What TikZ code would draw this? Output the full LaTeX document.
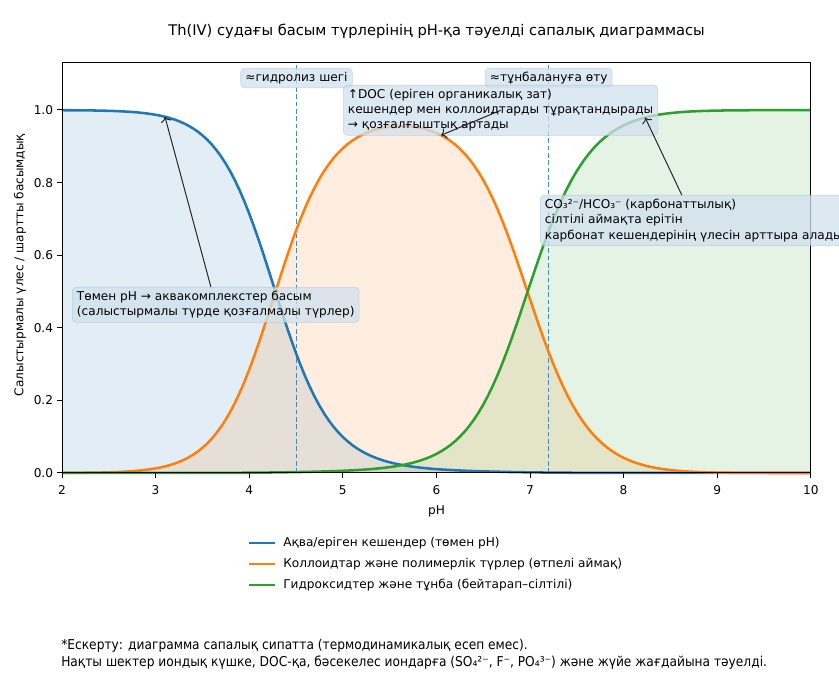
\documentclass[tikz,border=0pt]{standalone}
\usepackage{fontspec}
\setmainfont{DejaVu Sans}
\newfontfamily\notefont{DejaVu Sans Condensed}
\usetikzlibrary{arrows.meta}

\definecolor{aqblue}{HTML}{1F77B4}
\definecolor{colorange}{HTML}{FF7F0E}
\definecolor{hydgreen}{HTML}{2CA02C}
\definecolor{tagfill}{HTML}{D0E1EE}
\definecolor{tagedge}{HTML}{A9BFD0}

\newcommand{\labfont}{\fontsize{9.1}{11.4}\selectfont}

\tikzset{
	declare function={
		cexp(\u)=exp(min(8,max(-8,\u)));
		aqraw(\p)=1/(1+cexp(2.1*(\p-3.85)));
		colraw(\p)=exp(0-(\p-5.7)*(\p-5.7)/1.62);
		prraw(\p)=1/(1+cexp(-2.4*(\p-7.2)));
		total(\p)=aqraw(\p)+colraw(\p)+prraw(\p);
		fblue(\p)=aqraw(\p)/total(\p);
		forange(\p)=colraw(\p)/total(\p);
		fgreen(\p)=prraw(\p)/total(\p);
	},
	curve/.style={line width=1.9pt,line join=round},
	shade/.style={fill opacity=.13},
	guide/.style={aqblue!85,line width=.75pt,dash pattern=on 3.5pt off 2pt},
	tag/.style={rounded corners=3pt,fill=tagfill,fill opacity=.75,text opacity=1,
		draw=tagedge,draw opacity=.6,inner xsep=3.5pt,inner ysep=3pt,font=\labfont,align=left},
	pointer/.style={-{>[scale=1.2]},line width=.75pt,black!85},
	ticklab/.style={font=\labfont,inner sep=0pt},
}

\begin{document}
\begin{tikzpicture}[x=0.75pt,y=0.75pt]
	\useasboundingbox (0,0) rectangle (839,675);
	\clip (0,0) rectangle (839,675);

	\begin{scope}[shift={(-125.2,202)},x=70.2pt,y=272.25pt]
		\fill[aqblue,shade] plot[domain=2:10,samples=161] (\x,{fblue(\x)}) -- (10,0) -- (2,0) -- cycle;
		\fill[colorange,shade] plot[domain=2:10,samples=161] (\x,{forange(\x)}) -- (10,0) -- (2,0) -- cycle;
		\fill[hydgreen,shade] plot[domain=2:10,samples=161] (\x,{fgreen(\x)}) -- (10,0) -- (2,0) -- cycle;
		\draw[guide] (4.5,0) -- (4.5,1.1322);
		\draw[guide] (7.2,0) -- (7.2,1.1322);
		\draw[curve,aqblue] plot[domain=2:10,samples=161] (\x,{fblue(\x)});
		\draw[curve,colorange] plot[domain=2:10,samples=161] (\x,{forange(\x)});
		\draw[curve,hydgreen] plot[domain=2:10,samples=161] (\x,{fgreen(\x)});
		\draw[line width=.75pt] (2,0) rectangle (10,1.1322);
		\foreach \t in {2,...,10} {
			\draw[line width=.75pt] (\t,0) -- ++(0,-3.4pt);
			\node[ticklab,anchor=base,yshift=-16.5pt] (xt\t) at (\t,0) {\t};
		}
		\foreach \v [count=\i] in {0.0,0.2,0.4,0.6,0.8,1.0} {
			\draw[line width=.75pt] (2,\v) -- ++(-3.4pt,0);
			\node[ticklab,anchor=east,xshift=-6.5pt] (yt\i) at (2,\v) {\v};
		}
		\coordinate (aqpt) at (3.1,{fblue(3.1)});
		\coordinate (colpt) at (6.05,{forange(6.05)});
		\coordinate (hydpt) at (8.23,{fgreen(8.23)});
	\end{scope}

	% labels round the axes
	\node[font=\fontsize{11}{13.5}\selectfont] (title) at (436.5,644) {Th(IV) судағы басым түрлерінің pH-қа тәуелді сапалық диаграммасы};
	\node[ticklab] (xlab) at (436.5,164) {pH};
	\node[ticklab,rotate=90] (ylab) at (20,410) {Салыстырмалы үлес / шартты басымдық};

	% notes on the plot
	\node[tag] (hydro) at (296.5,597) {≈гидролиз шегі};
	\node[tag] (precip) at (548.7,597) {≈тұнбалануға өту};
	\node[tag,anchor=north west] (doc) at (343,590) {↑DOC (еріген органикалық зат)\\кешендер мен коллоидтарды тұрақтандырады\\→ қозғалғыштық артады};
	\node[tag,anchor=north west] (carb) at (540,480) {CO₃²⁻/HCO₃⁻ (карбонаттылық)\\сілтілі аймақта ерітін\\карбонат кешендерінің үлесін арттыра алады};
	\node[tag,anchor=north west] (low) at (72,388) {Төмен pH → аквакомплекстер басым\\(салыстырмалы түрде қозғалмалы түрлер)};
	\draw[pointer] (low) -- (aqpt);
	\draw[pointer] (doc.center) -- (colpt);
	\draw[pointer] (carb) -- (hydpt);

	% legend
	\draw[curve,aqblue] (249,132) -- (275,132);
	\draw[curve,colorange] (249,111) -- (275,111);
	\draw[curve,hydgreen] (249,90) -- (275,90);
	\node[ticklab,anchor=west] (legaq) at (283,132) {Ақва/еріген кешендер (төмен pH)};
	\node[ticklab,anchor=west] (legcol) at (283,111) {Коллоидтар және полимерлік түрлер (өтпелі аймақ)};
	\node[ticklab,anchor=west] (leghyd) at (283,90) {Гидроксидтер және тұнба (бейтарап–сілтілі)};

	% footnote
	\node[font=\notefont\fontsize{10.2}{12}\selectfont,anchor=base west,inner sep=0pt] (note1) at (61,26) {*Ескерту: диаграмма сапалық сипатта (термодинамикалық есеп емес).};
	\node[font=\notefont\fontsize{10.2}{12}\selectfont,anchor=base west,inner sep=0pt] (note2) at (61,9) {Нақты шектер иондық күшке, DOC-қа, бәсекелес иондарға (SO₄²⁻, F⁻, PO₄³⁻) және жүйе жағдайына тәуелді.};
\end{tikzpicture}
\end{document}
